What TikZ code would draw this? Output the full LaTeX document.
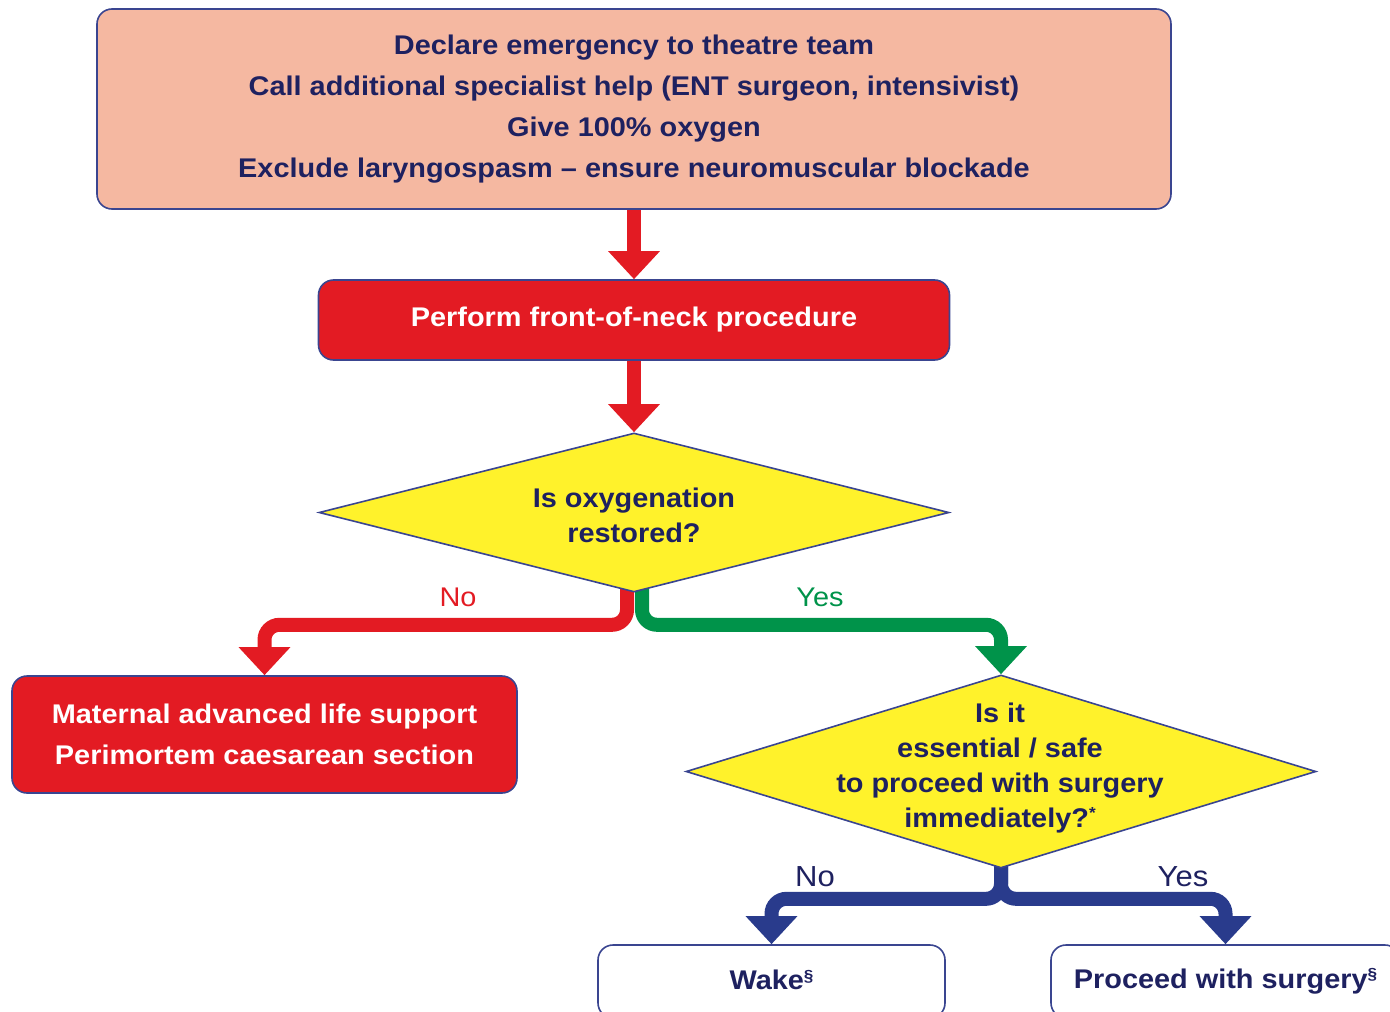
\documentclass[tikz,border=0pt]{standalone}
\usepackage{fontspec}
\setmainfont{Liberation Sans}[FakeStretch=1.07]
\usetikzlibrary{arrows.meta,shapes.geometric,backgrounds}
\definecolor{salmon}{HTML}{F5B8A1}
\definecolor{fred}{HTML}{E31B23}
\definecolor{fyellow}{HTML}{FFF22B}
\definecolor{fgreen}{HTML}{00934A}
\definecolor{fnavy}{HTML}{1E2160}
\definecolor{fblue}{HTML}{293B8C}
\definecolor{fborder}{HTML}{3A4590}
\newcommand{\smallsup}[1]{\raisebox{0.6ex}{\fontsize{8}{8}\selectfont #1}}
\tikzset{
  box/.style={draw=fborder, line width=0.8pt, rounded corners=7.5pt, align=center, inner sep=0pt},
  txt/.style={font=\fontsize{13.5}{20.5}\selectfont\bfseries},
  dtxt/.style={font=\fontsize{13.5}{17.5}\selectfont\bfseries, text=fnavy, align=center, inner sep=0pt},
  dmd/.style={diamond, draw=fborder, line width=0.8pt, fill=fyellow, inner sep=0pt},
  flow/.style={line width=7pt, -{Triangle[width=25pt,length=14pt]}, rounded corners=7.5pt},
  lbl/.style={font=\fontsize{13.5}{16}\selectfont, inner sep=0pt},
  lblb/.style={font=\fontsize{14.5}{16}\selectfont, inner sep=0pt},
}
\begin{document}
\begin{tikzpicture}[x=0.5pt, y=-0.5pt]
\useasboundingbox (0,0) rectangle (1390,1011);

\node[box, fill=salmon, txt, text=fnavy, minimum width=537pt, minimum height=100pt] (top) at (634,109)
  {Declare emergency to theatre team\\Call additional specialist help (ENT surgeon, intensivist)\\Give 100\% oxygen\\Exclude laryngospasm -- ensure neuromuscular blockade};

\node[box, fill=fred, txt, text=white, minimum width=315.5pt, minimum height=40pt] (fon) at (634,320)
  {\raisebox{-1.5pt}{Perform front-of-neck procedure}};

\node[dmd, minimum width=315pt, minimum height=79.5pt] (d1) at (634,512.5) {};
\node[dtxt] (d1t) at (634,515) {Is oxygenation\\restored?};

\node[box, fill=fred, txt, text=white, minimum width=252.5pt, minimum height=58.5pt] (mals) at (264.5,734.5)
  {Maternal advanced life support\\Perimortem caesarean section};

\node[dmd, minimum width=315pt, minimum height=96.5pt] (d2) at (1001,771.5) {};
\node[dtxt] (d2t) at (1000,768) {Is it\\essential / safe\\to proceed with surgery\\immediately?\smallsup{*}};

\node[box, fill=white, txt, text=fnavy, minimum width=173.5pt, minimum height=36.5pt] (wake) at (771.5,981.5)
  {\raisebox{1.5pt}{Wake\smallsup{\S}}};
\node[box, fill=white, txt, text=fnavy, minimum width=174.5pt, minimum height=36.5pt] (proc) at (1225.5,981.5)
  {\raisebox{1.5pt}{Proceed with surgery\smallsup{\S}}};

\begin{scope}[on background layer]
\draw[flow, fred] (top.south) -- (fon.north);
\draw[flow, fred] (fon.south) -- (d1.north);
\draw[flow, fred] ([xshift=-3.5pt,yshift=3pt]d1.south) -- ++(0,-19pt) -| (mals.north);
\draw[flow, fgreen] ([xshift=4pt,yshift=3pt]d1.south) -- ++(0,-19pt) -| (d2.north);
\draw[flow, fblue] ([yshift=3pt]d2.south) -- ++(0,-18pt) -| (wake.north);
\draw[flow, fblue] ([yshift=3pt]d2.south) -- ++(0,-18pt) -| (proc.north);
\end{scope}

\node[lbl, text=fred] (no1) at (458,597) {No};
\node[lbl, text=fgreen] (yes1) at (820,597) {Yes};
\node[lblb, text=fnavy] (no2) at (815,877) {No};
\node[lblb, text=fnavy] (yes2) at (1183,877) {Yes};
\end{tikzpicture}
\end{document}
